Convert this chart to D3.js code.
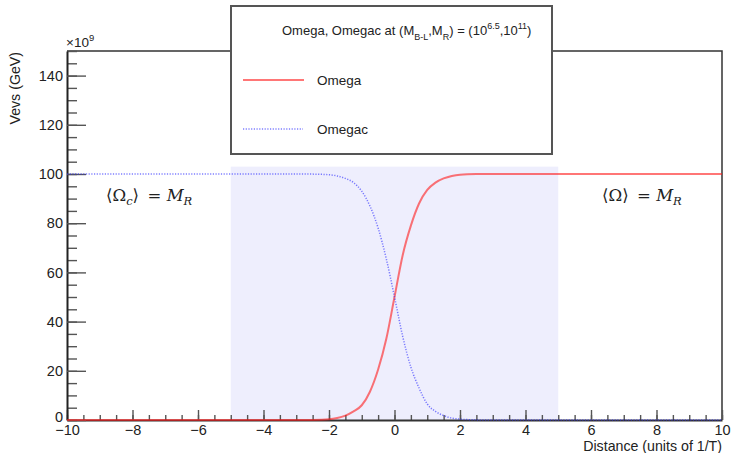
<!DOCTYPE html>
<html>
<head>
<meta charset="utf-8">
<script src="https://cdn.jsdelivr.net/npm/d3@7"></script>
<style>
  body { margin: 0; background: #fff; }
  svg { font-family: "Liberation Sans", Arial, sans-serif; }
</style>
</head>
<body>
<div id="graph"></div>
<script>
// values (y in units of 10^9 GeV)
const distance = [-10, -3, -2.5, -2, -1.75, -1.5, -1.25, -1, -0.75, -0.5, -0.25, 0,
  0.25, 0.5, 0.75, 1, 1.25, 1.5, 1.75, 2, 2.5, 3, 10];
const omega = [0, 0, 0.05, 0.3, 0.8, 1.8, 3.5, 6, 11.5, 20.5, 33, 50,
  67, 79, 88, 93.5, 96.5, 98.2, 99.2, 99.7, 99.95, 100, 100];
const omegac = [100, 100, 99.95, 99.7, 99.2, 98.2, 96.5, 93, 87, 78, 65.5, 50,
  34, 21.5, 13, 6.5, 3.5, 1.8, 0.8, 0.35, 0.05, 0, 0];
const shadeRange = [-5, 5];
const shadeTop = 103;
const xTicks = [-10, -8, -6, -4, -2, 0, 2, 4, 6, 8, 10];
const yTicks = [0, 20, 40, 60, 80, 100, 120, 140];

const width = 731, height = 453;
const margin = { top: 51, right: 9, bottom: 33, left: 67 };
const innerW = width - margin.left - margin.right,
  innerH = height - margin.top - margin.bottom;

const svg = d3.select("#graph").append("svg")
  .attr("width", width).attr("height", height);

const x = d3.scaleLinear().domain([-10, 10]).range([margin.left, margin.left + innerW]);
const y = d3.scaleLinear().domain([0, 150]).range([margin.top + innerH, margin.top]);

// shaded band
svg.append("rect")
  .attr("x", x(shadeRange[0])).attr("width", x(shadeRange[1]) - x(shadeRange[0]))
  .attr("y", y(shadeTop)).attr("height", y(0) - y(shadeTop))
  .attr("fill", "#eeeefd");

// frame top + right
svg.append("path")
  .attr("d", `M${x(-10)},${y(150)}H${x(10)}V${y(0)}`)
  .attr("fill", "none").attr("stroke", "#333").attr("stroke-width", 1.5);

// x axis: minor then major
svg.append("g").attr("transform", `translate(0,${y(0)})`)
  .call(d3.axisBottom(x).ticks(40).tickSizeInner(-5).tickSizeOuter(0).tickFormat(""))
  .call(g => g.select(".domain").remove());
svg.append("g").attr("transform", `translate(0,${y(0)})`)
  .call(d3.axisBottom(x).tickValues(xTicks).tickSizeInner(-10).tickSizeOuter(0)
    .tickPadding(5).tickFormat(d => d < 0 ? "\u2212" + Math.abs(d) : d))
  .call(g => g.select(".domain").attr("stroke", "#333").attr("stroke-width", 2));

// y axis
svg.append("g").attr("transform", `translate(${x(-10)},0)`)
  .call(d3.axisLeft(y).ticks(30).tickSizeInner(-10).tickSizeOuter(0).tickFormat(""))
  .call(g => g.select(".domain").remove());
const yAxisG = svg.append("g").attr("transform", `translate(${x(-10)},0)`)
  .call(d3.axisLeft(y).tickValues(yTicks).tickSizeInner(-19).tickSizeOuter(0)
    .tickPadding(4))
  .call(g => g.select(".domain").attr("stroke", "#222").attr("stroke-width", 2));

svg.selectAll(".tick line").attr("stroke", "#555").attr("stroke-width", 1.4);
svg.selectAll(".tick text").attr("font-size", 14.5).attr("fill", "#222")
  .attr("font-family", "Liberation Sans, Arial, sans-serif");
// lift the "0" a touch so it sits clear of "-10"
yAxisG.selectAll(".tick text").filter(d => d === 0).attr("y", -3);

// exponent
const ex = svg.append("text").attr("x", x(-10) - 1).attr("y", 47)
  .attr("font-size", 13.5).attr("fill", "#222");
ex.append("tspan").text("\u00d710");
ex.append("tspan").attr("dy", -6).attr("font-size", 9.5).text("9");

// axis titles
svg.append("text")
  .attr("transform", `translate(20,${margin.top + 1}) rotate(-90)`)
  .attr("text-anchor", "end").attr("font-size", 14.2).attr("fill", "#222")
  .text("Vevs (GeV)");
svg.append("text")
  .attr("x", x(10)).attr("y", 451).attr("text-anchor", "end")
  .attr("font-size", 14.2).attr("fill", "#222")
  .text("Distance (units of 1/T)");

// curves
const pts = (vals) => distance.map((d, i) => [d, vals[i]]);
const line = d3.line().x(d => x(d[0])).y(d => y(d[1])).curve(d3.curveMonotoneX);

svg.append("path").datum(pts(omega))
  .attr("d", line).attr("fill", "none")
  .attr("stroke", "#ff1a1a").attr("stroke-opacity", 0.6).attr("stroke-width", 2);
svg.append("path").datum(pts(omegac))
  .attr("d", line).attr("fill", "none")
  .attr("stroke", "#2a2aff").attr("stroke-opacity", 0.6).attr("stroke-width", 1.5)
  .attr("stroke-dasharray", "1.2,1.5");

// math labels
function mathLabel(xp, yp, sub) {
  const t = svg.append("text").attr("x", xp).attr("y", yp)
    .attr("font-size", 16.5).attr("fill", "#222")
    .attr("font-family", "DejaVu Serif, Liberation Serif, serif");
  t.append("tspan").text("\u27e8\u03a9");
  if (sub) t.append("tspan").attr("dy", 4).attr("font-size", 11.5)
    .attr("font-style", "italic").text("c");
  t.append("tspan").attr("dy", sub ? -4 : 0).text("\u27e9 \u2009= ");
  t.append("tspan").attr("font-style", "italic").text("M");
  t.append("tspan").attr("dy", 4).attr("font-size", 11.5)
    .attr("font-style", "italic").text("R");
}
mathLabel(106, 201, true);
mathLabel(602, 201, false);

// legend
const lg = svg.append("g");
lg.append("rect").attr("x", 231).attr("y", 6).attr("width", 321).attr("height", 148)
  .attr("fill", "#fff").attr("stroke", "#555").attr("stroke-width", 2);
const title = lg.append("text").attr("x", 282).attr("y", 35)
  .attr("font-size", 13).attr("fill", "#222");
title.append("tspan").text("Omega, Omegac at (M");
title.append("tspan").attr("dy", 5).attr("font-size", 9).text("B-L");
title.append("tspan").attr("dy", -5).text(",M");
title.append("tspan").attr("dy", 5).attr("font-size", 9).text("R");
title.append("tspan").attr("dy", -5).text(") = (10");
title.append("tspan").attr("dy", -6).attr("font-size", 9).text("6.5");
title.append("tspan").attr("dy", 6).text(",10");
title.append("tspan").attr("dy", -6).attr("font-size", 9).text("11");
title.append("tspan").attr("dy", 6).text(")");

lg.append("line").attr("x1", 243).attr("x2", 304).attr("y1", 80).attr("y2", 80)
  .attr("stroke", "#ff1a1a").attr("stroke-opacity", 0.6).attr("stroke-width", 2);
lg.append("text").attr("x", 317).attr("y", 85).attr("font-size", 13.5)
  .attr("fill", "#222").text("Omega");
lg.append("line").attr("x1", 243).attr("x2", 303).attr("y1", 129).attr("y2", 129)
  .attr("stroke", "#2a2aff").attr("stroke-opacity", 0.6).attr("stroke-width", 1.5)
  .attr("stroke-dasharray", "1.2,1.5");
lg.append("text").attr("x", 317).attr("y", 134).attr("font-size", 13.5)
  .attr("fill", "#222").text("Omegac");
</script>
</body>
</html>
